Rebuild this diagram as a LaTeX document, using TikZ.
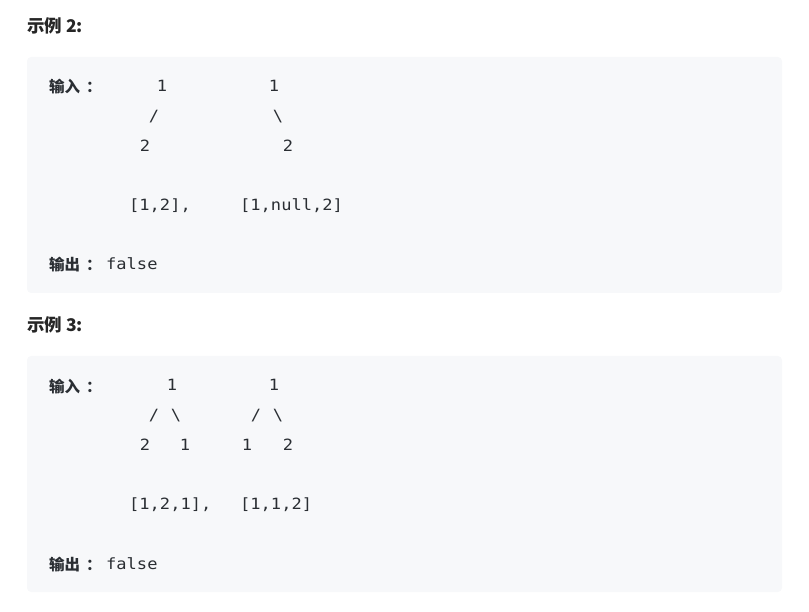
\documentclass[tikz,border=0pt]{standalone}
\usepackage{fontspec}
\usepackage{xcolor}
\newfontfamily\cjkfont{Noto Sans CJK SC}
\newfontfamily\codefont[FakeStretch=1.1]{DejaVu Sans Mono}
\definecolor{panelbg}{HTML}{F7F8FA}
\definecolor{headtxt}{HTML}{262626}
\definecolor{codetxt}{HTML}{2A2E33}
\usetikzlibrary{positioning}

\begin{document}
\begin{tikzpicture}[x=1pt, y=-1pt,
  panel/.style   = {fill=panelbg, rounded corners=4pt},
  heading/.style = {anchor=base west, inner sep=0pt, text=headtxt,
                    font=\cjkfont\bfseries\fontsize{17.5}{20}\selectfont},
  tag/.style     = {anchor=base west, inner sep=0pt, text=codetxt,
                    font=\cjkfont\bfseries\fontsize{15.5}{18}\selectfont},
  code/.style    = {anchor=base, inner sep=0pt, text=codetxt,
                    font=\codefont\fontsize{15.5}{18}\selectfont},
  codeline/.style = {code, anchor=base west},
]
\useasboundingbox (0,0) rectangle (809,612);

%% one heading and one grey panel per example
\foreach \k/\dy in {2/0, 3/299}{
  \fill[panel] (27,57+\dy) rectangle (782,293+\dy);
  \node[heading] (head\k) at (27,32.5+\dy) {示例 \k:};
  \node[tag]     (in\k)   at (49,93+\dy)   {输入\kern6pt：};
  \node[tag]     (out\k)  at (49,271+\dy)  {输出\kern6pt：};
  \node[codeline] (res\k) at (106,270+\dy) {false};
}

%% example 2: the two trees
\node[code] (ltop2)  at (162,92)    {1};
\node[code] (rtop2)  at (274,92)    {1};
\node[code] (ledge2) at (154,121.7) {/};
\node[code] (redge2) at (278,121.7) {\textbackslash};
\node[code] (lleaf2) at (145,151.3) {2};
\node[code] (rleaf2) at (288,151.3) {2};
\node[codeline] (larr2) at (129,210.7) {[1,2],};
\node[codeline] (rarr2) at (240,210.7) {[1,null,2]};

%% example 3: the two trees
\node[code] (ltop3)   at (172,391)   {1};
\node[code] (rtop3)   at (274,391)   {1};
\node[code] (lledge3) at (154,420.7) {/};
\node[code] (lredge3) at (176,420.7) {\textbackslash};
\node[code] (rledge3) at (256,420.7) {/};
\node[code] (rredge3) at (278,420.7) {\textbackslash};
\node[code] (llleaf3) at (145,450.3) {2};
\node[code] (lrleaf3) at (185,450.3) {1};
\node[code] (rlleaf3) at (247,450.3) {1};
\node[code] (rrleaf3) at (288,450.3) {2};
\node[codeline] (larr3) at (129,509.7) {[1,2,1],};
\node[codeline] (rarr3) at (240,509.7) {[1,1,2]};

\end{tikzpicture}
\end{document}
